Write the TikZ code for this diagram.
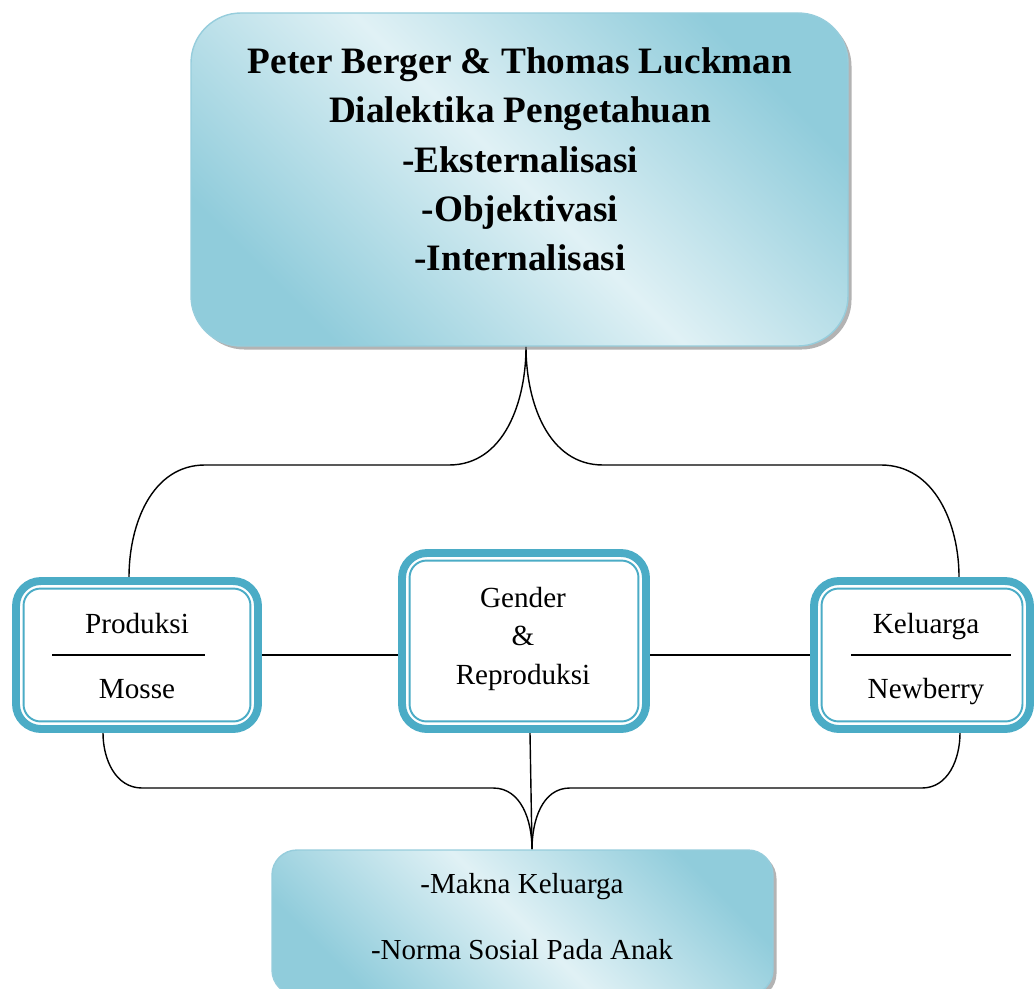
\documentclass[tikz,border=0pt]{standalone}
\usepackage{fontspec}
\setmainfont{Liberation Serif}
\usepackage{tikz}
\usetikzlibrary{shadows,backgrounds}

\definecolor{tealc}{RGB}{75,172,198}
\definecolor{boxlight}{RGB}{224,241,245}
\definecolor{boxdark}{RGB}{144,204,219}
\definecolor{boxedge}{RGB}{150,205,220}

\tikzset{
  topbox/.style={draw=boxedge, line width=.8pt, rounded corners=1cm,
    top color=boxdark, bottom color=boxdark, middle color=boxlight, shading angle=-45,
    drop shadow={shadow xshift=2pt, shadow yshift=-2pt, fill=black!50, opacity=.6}},
  midbox/.style={draw=tealc, line width=4.5pt, fill=white, rounded corners=.5cm,
    minimum height=2.96cm, inner sep=0pt},
  innerline/.style={draw=tealc, line width=1.1pt, rounded corners=.34cm},
  link/.style={line width=.8pt, black},
  toptext/.style={font=\bfseries\fontsize{21.2}{28.1}\selectfont, align=center},
  midtext/.style={font=\fontsize{16.6}{21.8}\selectfont, align=center},
  restext/.style={font=\fontsize{16.5}{37.4}\selectfont, align=center}
}

\begin{document}
\begin{tikzpicture}
\useasboundingbox (0,0) rectangle (20.7,-19.78);

% boxes
\node[topbox, minimum width=13.14cm, minimum height=6.66cm] (berger) at (10.39,-3.59) {};
\node[toptext, anchor=base] (bergertxt) at (10.4,-5.42) {Peter Berger \& Thomas Luckman\\Dialektika Pengetahuan\\-Eksternalisasi\\-Objektivasi\\-Internalisasi};

\node[midbox, minimum width=4.84cm] (prod) at (2.74,-13.1) {};
\node[midbox, minimum width=4.88cm, minimum height=3.52cm] (gend) at (10.48,-12.82) {};
\node[midbox, minimum width=4.32cm] (kelu) at (18.44,-13.1) {};
\foreach \n in {prod,gend,kelu}
  \draw[innerline] ([shift={(.23,.23)}]\n.south west) rectangle ([shift={(-.23,-.23)}]\n.north east);

\node[midtext, anchor=base] (produp) at (2.74,-12.66) {Produksi};
\node[midtext, anchor=base] (proddown) at (2.74,-13.96) {Mosse};
\draw[link] ([xshift=-1.7cm]prod.center) -- ([xshift=1.36cm]prod.center);
\node[midtext, anchor=base] (gendtxt) at (10.46,-13.68) {Gender\\\&\\Reproduksi};
\node[midtext, anchor=base] (keluup) at (18.52,-12.66) {Keluarga};
\node[midtext, anchor=base] (keludown) at (18.52,-13.96) {Newberry};
\draw[link] ([xshift=-1.42cm]kelu.center) -- ([xshift=1.78cm]kelu.center);

\node[topbox, rounded corners=.5cm, minimum width=10.02cm, minimum height=2.9cm] (makna) at (10.45,-18.45) {};
\node[restext, anchor=base] (maknatxt) at (10.44,-19.18) {-Makna Keluarga\\-Norma Sosial Pada Anak};

% connectors
\coordinate (split) at ([xshift=.13cm]berger.south);
\coordinate (join) at ([xshift=.19cm]makna.north);
\begin{scope}[on background layer]
\draw[link] (split) to[out=-90,in=0] (8.98,-9.3) -- (4.1,-9.3) to[out=180,in=90] ([xshift=-.16cm]prod.north);
\draw[link] (split) to[out=-90,in=180] (12.06,-9.3) -- (17.62,-9.3) to[out=0,in=90] ([xshift=.74cm]kelu.north);
\draw[link] (prod.east) -- (prod.east -| gend.west);
\draw[link] (kelu.west -| gend.east) -- (kelu.west);
\draw[link] ([xshift=-.68cm]prod.south) to[out=-90,in=180] (2.84,-15.76) -- (9.86,-15.76) to[out=0,in=90] (join);
\draw[link] ([xshift=.12cm]gend.south) -- (join);
\draw[link] ([xshift=.76cm]kelu.south) to[out=-90,in=0] (18.44,-15.76) -- (11.4,-15.76) to[out=180,in=90] (join);
\end{scope}
\end{tikzpicture}
\end{document}
